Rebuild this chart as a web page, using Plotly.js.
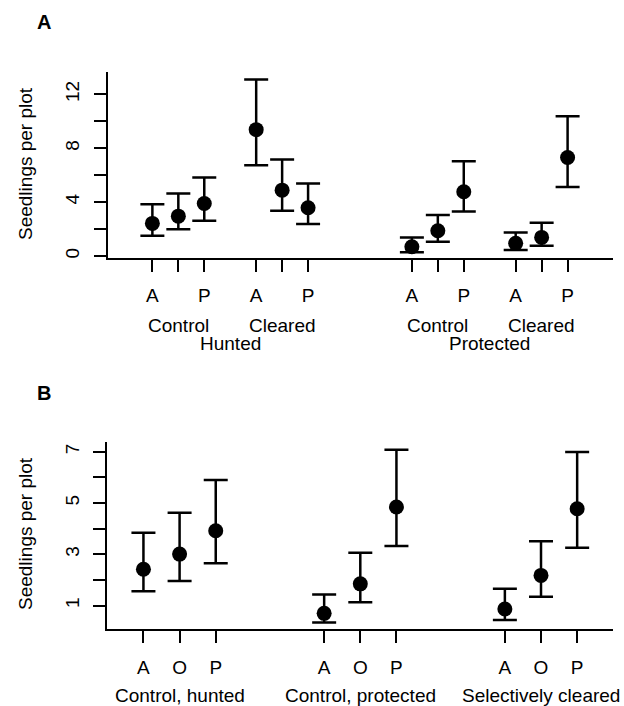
<!DOCTYPE html>
<html>
<head>
<meta charset="utf-8">
<script src="https://cdn.plot.ly/plotly-3.0.1.min.js"></script>
<style>html,body{margin:0;padding:0;background:#fff;}#chart{width:624px;height:706px;}</style>
</head>
<body>
<div id="chart"></div>
<script>
// ---------- Panel A data ----------
const speciesA = ['A', 'O', 'P'];
const tickTextA = ['A', '', 'P'];
const groupsA = ['Control', 'Cleared', 'Control', 'Cleared'];
const superGroupsA = ['Hunted', 'Protected'];
const meanA = [2.42, 2.96, 3.90, 9.38, 4.89, 3.58, 0.69, 1.88, 4.77, 0.94, 1.38, 7.31];
const upperA = [3.85, 4.64, 5.83, 13.10, 7.16, 5.38, 1.38, 3.04, 7.04, 1.75, 2.47, 10.37];
const lowerA = [1.50, 1.98, 2.62, 6.74, 3.36, 2.37, 0.27, 1.06, 3.31, 0.44, 0.77, 5.13];
const yTicksA = [0, 2, 4, 6, 8, 10, 12];
const yTickTextA = ['0', '', '4', '', '8', '', '12'];

// ---------- Panel B data ----------
const speciesB = ['A', 'O', 'P'];
const groupsB = ['Control, hunted', 'Control, protected', 'Selectively cleared'];
const meanB = [2.42, 3.01, 3.92, 0.70, 1.85, 4.85, 0.87, 2.18, 4.78];
const upperB = [3.84, 4.62, 5.90, 1.44, 3.06, 7.08, 1.66, 3.51, 6.99];
const lowerB = [1.56, 1.96, 2.65, 0.34, 1.13, 3.33, 0.44, 1.35, 3.26];
const yTicksB = [1, 2, 3, 4, 5, 6, 7];
const yTickTextB = ['1', '', '3', '', '5', '', '7'];

const yTitle = 'Seedlings per plot';

// ---------- positions ----------
const groupStartA = [1, 5, 11, 15];
const xA = [], tickValsA = [], tickLabA = [];
groupStartA.forEach((s) => {
  speciesA.forEach((sp, j) => { xA.push(s + j); tickValsA.push(s + j); tickLabA.push(tickTextA[j]); });
});
const groupStartB = [1, 6, 11];
const xB = [], tickValsB = [], tickLabB = [];
groupStartB.forEach((s) => {
  speciesB.forEach((sp, j) => { xB.push(s + j); tickValsB.push(s + j); tickLabB.push(sp); });
});

const font = 'Liberation Sans, Arial, sans-serif';
const fs = 19;

function errTrace(x, mean, up, lo, xa, ya) {
  return {
    type: 'scatter', mode: 'markers', x: x, y: mean, xaxis: xa, yaxis: ya,
    marker: {color: '#000', size: 15},
    error_y: {
      type: 'data', symmetric: false,
      array: mean.map((m, i) => up[i] - m),
      arrayminus: mean.map((m, i) => m - lo[i]),
      color: '#000', thickness: 2.5, width: 12
    },
    hoverinfo: 'x+y', showlegend: false
  };
}

const data = [
  errTrace(xA, meanA, upperA, lowerA, 'x', 'y'),
  errTrace(xB, meanB, upperB, lowerB, 'x2', 'y2')
];

const axBase = {
  showline: true, linecolor: '#000', linewidth: 2,
  ticks: 'outside', ticklen: 12, tickwidth: 2, tickcolor: '#000',
  showgrid: false, zeroline: false, mirror: false,
  tickfont: {family: font, size: fs, color: '#000'},
  fixedrange: true
};

const H = 706;
const py = (p) => 1 - p / H;

const annotations = [];
annotations.push({text: '<b>A</b>', xref: 'paper', yref: 'paper', x: 44 / 624, y: py(22), showarrow: false, xanchor: 'center', yanchor: 'middle', font: {family: font, size: 20, color: '#000'}});
annotations.push({text: '<b>B</b>', xref: 'paper', yref: 'paper', x: 44 / 624, y: py(393), showarrow: false, xanchor: 'center', yanchor: 'middle', font: {family: font, size: 20, color: '#000'}});
annotations.push({text: yTitle, xref: 'paper', yref: 'paper', x: 25 / 624, y: py(164), textangle: -90, showarrow: false, xanchor: 'center', yanchor: 'middle', font: {family: font, size: fs, color: '#000'}});
annotations.push({text: yTitle, xref: 'paper', yref: 'paper', x: 25 / 624, y: py(534), textangle: -90, showarrow: false, xanchor: 'center', yanchor: 'middle', font: {family: font, size: fs, color: '#000'}});
groupsA.forEach((g, i) => {
  annotations.push({text: g, xref: 'x', yref: 'paper', x: groupStartA[i] + 1, y: py(325), showarrow: false, xanchor: 'center', yanchor: 'middle', font: {family: font, size: fs, color: '#000'}});
});
superGroupsA.forEach((g, i) => {
  annotations.push({text: g, xref: 'x', yref: 'paper', x: (groupStartA[2 * i] + groupStartA[2 * i + 1] + 2) / 2, y: py(344), showarrow: false, xanchor: 'center', yanchor: 'middle', font: {family: font, size: fs, color: '#000'}});
});
groupsB.forEach((g, i) => {
  annotations.push({text: g, xref: 'x2', yref: 'paper', x: groupStartB[i] + 1, y: py(695), showarrow: false, xanchor: 'center', yanchor: 'middle', font: {family: font, size: fs, color: '#000'}});
});

const layout = {
  width: 624, height: 706,
  margin: {l: 0, r: 0, t: 0, b: 0},
  paper_bgcolor: '#fff', plot_bgcolor: '#fff',
  font: {family: font, size: fs, color: '#000'},
  showlegend: false,
  xaxis: Object.assign({}, axBase, {
    domain: [108 / 624, 613 / 624], range: [-0.71, 18.75],
    tickmode: 'array', tickvals: tickValsA, ticktext: tickLabA, ticklabelstandoff: 7, anchor: 'y'
  }),
  yaxis: Object.assign({}, axBase, {
    domain: [py(258.3), py(71.7)], range: [-0.17, 13.68],
    tickmode: 'array', tickvals: yTicksA, ticktext: yTickTextA, tickangle: -90, ticklabelstandoff: 7, anchor: 'x'
  }),
  xaxis2: Object.assign({}, axBase, {
    domain: [107.3 / 624, 613.3 / 624], range: [0, 14],
    tickmode: 'array', tickvals: tickValsB, ticktext: tickLabB, ticklabelstandoff: 8, anchor: 'y2'
  }),
  yaxis2: Object.assign({}, axBase, {
    domain: [py(629), py(442.3)], range: [0.09, 7.37],
    tickmode: 'array', tickvals: yTicksB, ticktext: yTickTextB, tickangle: -90, ticklabelstandoff: 7, anchor: 'x2'
  }),
  annotations: annotations
};

Plotly.newPlot('chart', data, layout, {displayModeBar: false, staticPlot: true});
</script>
</body>
</html>
